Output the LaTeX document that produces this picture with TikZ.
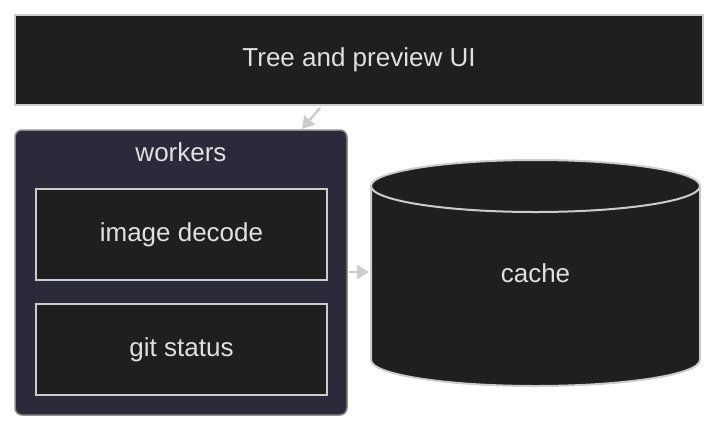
\documentclass[tikz,border=0pt]{standalone}
\usepackage{fontspec}
\setmainfont{Liberation Sans}
\usetikzlibrary{arrows.meta}
\begin{document}
\begin{tikzpicture}[x=1pt,y=-1pt,
  box/.style={draw=black!20,line width=2pt,fill=black!88,text=black!12,font=\fontsize{26}{30}\selectfont},
  lbl/.style={text=black!12,font=\fontsize{26}{30}\selectfont},
  arr/.style={draw=black!20,line width=2.5pt,-{Triangle[length=12pt,width=14pt]}}]
\useasboundingbox (0,0) rectangle (718,432);
\node[box,minimum width=688pt,minimum height=90pt,inner sep=0] (ui) at (359,60) {Tree and preview UI};
\draw[draw=black!45,line width=1.5pt,fill={rgb,255:red,42;green,42;blue,58},rounded corners=7pt] (15,130) rectangle (347,415);
\coordinate (wtop) at (302,129);
\coordinate (wright) at (349,272);
\node[lbl] (wl) at (181,152) {workers};
\node[box,minimum width=291pt,minimum height=91pt,inner sep=0] (img) at (181.5,234.5) {image decode};
\node[box,minimum width=291pt,minimum height=91pt,inner sep=0] (git) at (181.5,349.5) {git status};
\draw[draw=black!20,line width=2pt,fill=black!88] (371,186) -- (371,360) arc[start angle=180,end angle=0,x radius=164.5,y radius=26] -- (700,186) arc[start angle=0,end angle=-180,x radius=164.5,y radius=26] -- cycle;
\draw[draw=black!20,line width=2pt] (371,186) arc[start angle=180,end angle=0,x radius=164.5,y radius=26];
\node[lbl] (cache) at (535.5,273) {cache};
\coordinate (ctl) at (369,272);
\draw[arr] (320,108) -- (wtop);
\draw[arr] (wright) -- (ctl);
\end{tikzpicture}
\end{document}
